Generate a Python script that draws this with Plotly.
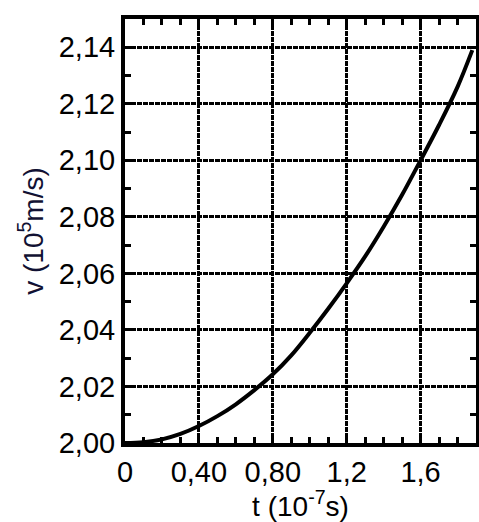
import plotly.graph_objects as go

# time (10^-7 s) and speed (10^5 m/s)
t_vals = [0.0, 0.1, 0.2, 0.3, 0.4, 0.5, 0.6, 0.7, 0.8, 0.9, 1.0,
          1.1, 1.2, 1.3, 1.4, 1.5, 1.6, 1.7, 1.8, 1.88]
v_vals = [2.0000, 2.0003, 2.0013, 2.0032, 2.0060, 2.0095, 2.0137, 2.0187,
          2.0243, 2.0310, 2.0390, 2.0475, 2.0565, 2.0660, 2.0765, 2.0878,
          2.1000, 2.1125, 2.1260, 2.1390]

x_tickvals = [0, 0.4, 0.8, 1.2, 1.6]
x_ticktext = ["0", "0,40", "0,80", "1,2", "1,6"]
y_tickvals = [2.00, 2.02, 2.04, 2.06, 2.08, 2.10, 2.12, 2.14]
y_ticktext = ["2,00", "2,02", "2,04", "2,06", "2,08", "2,10", "2,12", "2,14"]

FONT = "Liberation Sans, Arial, sans-serif"

fig = go.Figure()
fig.add_trace(go.Scatter(x=t_vals, y=v_vals, mode="lines",
                         line=dict(color="black", width=4, shape="spline"),
                         showlegend=False, hoverinfo="skip"))

axis_common = dict(
    showline=True, linecolor="black", linewidth=4, mirror="allticks",
    ticks="inside", ticklen=8, tickwidth=3, tickcolor="black",
    showgrid=True, gridcolor="black", gridwidth=2.5, griddash="5px,1px",
    zeroline=False, automargin=False,
    tickfont=dict(family=FONT, size=29, color="black"),
)

fig.update_xaxes(
    range=[0, 1.9], tickmode="array", tickvals=x_tickvals, ticktext=x_ticktext,
    minor=dict(dtick=0.1, tick0=0, ticks="inside", ticklen=6, tickwidth=3,
               tickcolor="black", showgrid=False),
    title=dict(text="t (10<sup>-7</sup>s)", font=dict(family=FONT, size=28, color="black"),
               standoff=2),
    **axis_common,
)
fig.update_yaxes(
    range=[2.0, 2.15], tickmode="array", tickvals=y_tickvals, ticktext=y_ticktext,
    minor=dict(dtick=0.01, tick0=2.0, ticks="inside", ticklen=6, tickwidth=3,
               tickcolor="black", showgrid=False),
    title=dict(text="v (10<sup>5</sup>m/s)", font=dict(family=FONT, size=28, color="#111133"),
               standoff=8),
    **axis_common,
)

fig.update_layout(
    width=479, height=522,
    margin=dict(l=125, r=3, t=19, b=79),
    paper_bgcolor="white", plot_bgcolor="white",
)

fig.write_html("out.html", config={"displayModeBar": False},
               post_script="document.body.style.margin='0';document.body.style.overflow='hidden';")
